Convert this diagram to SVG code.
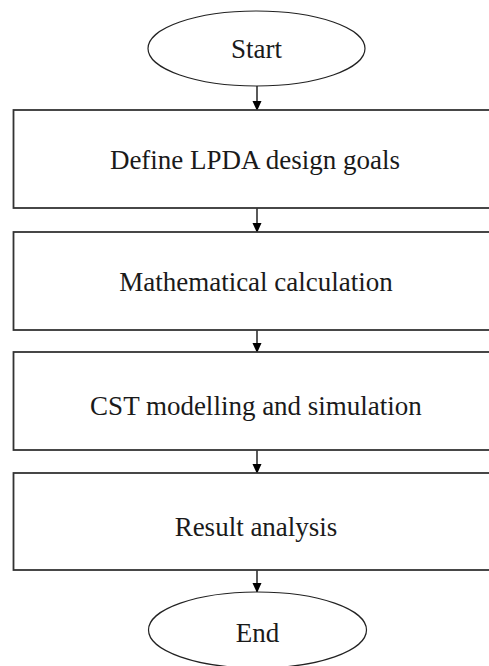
<svg xmlns="http://www.w3.org/2000/svg" width="489" height="666" viewBox="0 0 489 666">
<defs>
<marker id="ah" markerWidth="10" markerHeight="12" refX="9" refY="4.5" orient="auto" markerUnits="userSpaceOnUse" viewBox="0 0 10 9">
<path d="M0,0 L10,4.5 L0,9 Z" fill="#000"/>
</marker>
<style>
.box{fill:#fff;stroke:#333;stroke-width:1.8}
.ell{fill:#fff;stroke:#222;stroke-width:1.2}
.lbl{font-family:'Liberation Serif','Times New Roman',serif;font-size:27px;fill:#1a1a1a;text-anchor:middle}
.con{stroke:#000;stroke-width:1.3;fill:none;marker-end:url(#ah)}
</style>
</defs>
<rect width="489" height="666" fill="#fff"/>
<g id="connectors">
<line class="con" x1="257" y1="86" x2="257" y2="110"/>
<line class="con" x1="257" y1="208" x2="257" y2="232"/>
<line class="con" x1="257" y1="330" x2="257" y2="352"/>
<line class="con" x1="257" y1="450" x2="257" y2="473"/>
<line class="con" x1="257" y1="570" x2="257" y2="592"/>
</g>
<g id="start">
<ellipse class="ell" cx="256.5" cy="48.5" rx="108.5" ry="37.5"/>
<text class="lbl" font-family="Liberation Serif, serif" x="256.5" y="57.5">Start</text>
</g>
<g id="define">
<rect class="box" x="13.5" y="110" width="490" height="98"/>
<text class="lbl" font-family="Liberation Serif, serif" x="255" y="169">Define LPDA design goals</text>
</g>
<g id="math">
<rect class="box" x="13.5" y="232" width="490" height="98"/>
<text class="lbl" font-family="Liberation Serif, serif" x="256" y="291">Mathematical calculation</text>
</g>
<g id="cst">
<rect class="box" x="13.5" y="352" width="490" height="98"/>
<text class="lbl" font-family="Liberation Serif, serif" x="256" y="415">CST modelling and simulation</text>
</g>
<g id="result">
<rect class="box" x="13.5" y="473" width="490" height="97"/>
<text class="lbl" font-family="Liberation Serif, serif" x="256" y="536">Result analysis</text>
</g>
<g id="end">
<ellipse class="ell" cx="257.5" cy="630" rx="109" ry="38"/>
<text class="lbl" font-family="Liberation Serif, serif" x="257.5" y="641.5">End</text>
</g>
</svg>
